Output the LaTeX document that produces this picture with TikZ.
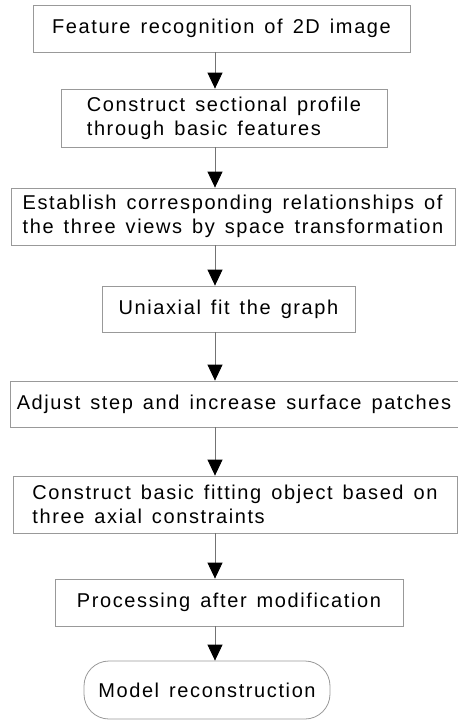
\documentclass[tikz,border=0pt]{standalone}
\usepackage{fontspec}
\setsansfont{Liberation Sans}[LetterSpace=8,WordSpace=1.4]
\usetikzlibrary{arrows.meta}
\tikzset{>={Triangle[length=16pt,width=15pt,black]}}
\tikzset{
  stepbox/.style={draw=black!40, line width=0.8pt, inner sep=0pt,
    align=left, text=black, font=\sffamily\fontsize{20}{24}\selectfont},
  flow/.style={->, draw=black!55, line width=0.8pt}
}

\begin{document}
\begin{tikzpicture}[
            x=1pt, y=-1pt
        ]
        \useasboundingbox (0,0) rectangle (458,721);
        \coordinate (spine) at (215,0);
        % recognition
        \node[stepbox, minimum width=377pt, minimum height=47pt] (feature) at (221.5,28.5) {Feature recognition of 2D image};
        % profile
        \node[stepbox, minimum width=326pt, minimum height=58pt] (profile) at (224,118) {Construct sectional profile\\through basic features};
        \draw[flow] (feature.south -| spine) -- (profile.north -| spine);
        % three views
        \node[stepbox, minimum width=444pt, minimum height=57pt] (views) at (233,216.5) {Establish corresponding relationships of\\the three views by space transformation};
        \draw[flow] (profile.south -| spine) -- (views.north -| spine);
        % uniaxial fit
        \node[stepbox, minimum width=253pt, minimum height=46pt] (uniaxial) at (228.5,309) {Uniaxial fit the graph};
        \draw[flow] (views.south -| spine) -- (uniaxial.north -| spine);
        % patches
        \node[stepbox, minimum width=448pt, minimum height=46pt] (patches) at (234,404) {Adjust step and increase surface patches};
        \draw[flow] (uniaxial.south -| spine) -- (patches.north -| spine);
        % fitting object
        \node[stepbox, minimum width=444pt, minimum height=57pt] (fitting) at (235,504.5) {Construct basic fitting object based on\\three axial constraints};
        \draw[flow] (patches.south -| spine) -- (fitting.north -| spine);
        % post processing
        \node[stepbox, minimum width=348pt, minimum height=47pt] (postproc) at (229,602.5) {Processing after modification};
        \draw[flow] (fitting.south -| spine) -- (postproc.north -| spine);
        % result
        \node[stepbox, rounded corners=25pt, minimum width=246pt, minimum height=58pt] (model) at (207,690) {Model reconstruction};
        \draw[flow] (postproc.south -| spine) -- (model.north -| spine);
        \end{tikzpicture}
\end{document}
